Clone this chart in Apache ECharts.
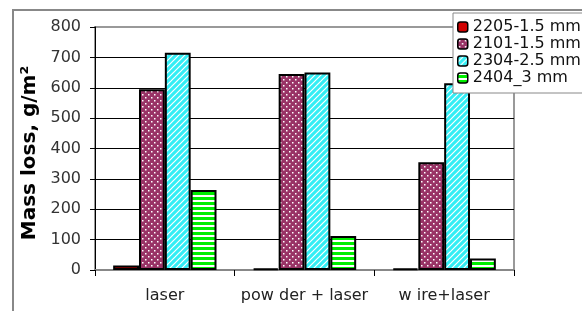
<!DOCTYPE html>
<html>
<head>
<meta charset="utf-8">
<script src="https://cdn.jsdelivr.net/npm/echarts@6/dist/echarts.min.js"></script>
<style>
  html, body { margin: 0; padding: 0; background: #fff; }
  #main { width: 582px; height: 311px; }
</style>
</head>
<body>
<div id="main"></div>
<script>
// data
var categories = ['laser', 'pow der + laser', 'w ire+laser'];
var seriesNames = ['2205-1.5 mm', '2101-1.5 mm', '2304-2.5 mm', '2404_3 mm'];
var s2205 = [15, 5, 5];
var s2101 = [595, 645, 355];
var s2304 = [715, 650, 615];
var s2404 = [263, 112, 38];
var yTicks = [0, 100, 200, 300, 400, 500, 600, 700, 800];

// fill patterns, made on small canvases
function makePattern(w, h, base, draw) {
    var c = document.createElement('canvas');
    c.width = w; c.height = h;
    var ctx = c.getContext('2d');
    ctx.fillStyle = base;
    ctx.fillRect(0, 0, w, h);
    ctx.fillStyle = '#fff';
    ctx.strokeStyle = '#fff';
    draw(ctx);
    return { image: c, repeat: 'repeat' };
}

var dots = makePattern(6, 6, '#993366', function (ctx) {
    ctx.fillRect(1, 1, 1.5, 1.5);
    ctx.fillRect(4, 4, 1.5, 1.5);
});
var diag = makePattern(6, 6, '#33eef5', function (ctx) {
    ctx.lineWidth = 1.2;
    ctx.beginPath();
    ctx.moveTo(-1, 7); ctx.lineTo(7, -1);
    ctx.moveTo(-4, 4); ctx.lineTo(4, -4);
    ctx.moveTo(2, 10); ctx.lineTo(10, 2);
    ctx.stroke();
});
var hstripe = makePattern(4, 5, '#00ee00', function (ctx) {
    ctx.fillRect(0, 0, 4, 2);
});

var fills = ['#d00000', dots, diag, hstripe];
var values = [s2205, s2101, s2304, s2404];

var chart = echarts.init(document.getElementById('main'));

var series = seriesNames.map(function (name, i) {
    return {
        name: name,
        type: 'bar',
        data: values[i],
        barGap: '0%',
        barCategoryGap: '26%',
        itemStyle: {
            color: fills[i],
            borderColor: '#000',
            borderWidth: 2
        }
    };
});

chart.setOption({
    animation: false,
    backgroundColor: '#fff',
    textStyle: { fontFamily: 'DejaVu Sans, sans-serif' },
    grid: {
        left: 95, right: 68, top: 27, bottom: 41,
        show: true,
        borderColor: '#999',
        borderWidth: 2
    },
    legend: {
        orient: 'vertical',
        left: 453, top: 13,
        padding: [5.5, 40, 6.5, 4],
        itemWidth: 10, itemHeight: 10,
        itemGap: 0,
        backgroundColor: '#fff',
        borderColor: '#888',
        borderWidth: 1,
        itemStyle: { borderColor: '#000', borderWidth: 1.5 },
        textStyle: { fontSize: 16, color: '#111', lineHeight: 17 },
        data: seriesNames
    },
    xAxis: {
        type: 'category',
        data: categories,
        axisLine: { lineStyle: { color: '#888', width: 2 } },
        axisTick: { show: true, length: 6, lineStyle: { color: '#000' } },
        axisLabel: { fontSize: 16, color: '#222', margin: 18, interval: 0, hideOverlap: false }
    },
    yAxis: {
        type: 'value',
        min: 0, max: 800, interval: 100,
        name: 'Mass loss, g/m²',
        nameLocation: 'middle',
        nameRotate: 90,
        nameGap: 48,
        nameTextStyle: { fontSize: 20, fontWeight: 'bold', color: '#000', padding: [0, 9, 0, 0] },
        axisLine: { show: true, lineStyle: { color: '#000', width: 1 } },
        axisTick: { show: true, length: 5, lineStyle: { color: '#000' } },
        axisLabel: {
            fontSize: 16, color: '#333', margin: 14,
            formatter: function (v) { return yTicks.indexOf(v) >= 0 ? String(v) : ''; }
        },
        splitLine: { show: true, showMaxLine: false, lineStyle: { color: '#000', width: 1 } }
    },
    graphic: [{
        type: 'rect',
        shape: { x: 13, y: 10, width: 600, height: 320 },
        style: { fill: null, stroke: '#888', lineWidth: 2 },
        silent: true,
        z: -1
    }],
    series: series
});
</script>
</body>
</html>
